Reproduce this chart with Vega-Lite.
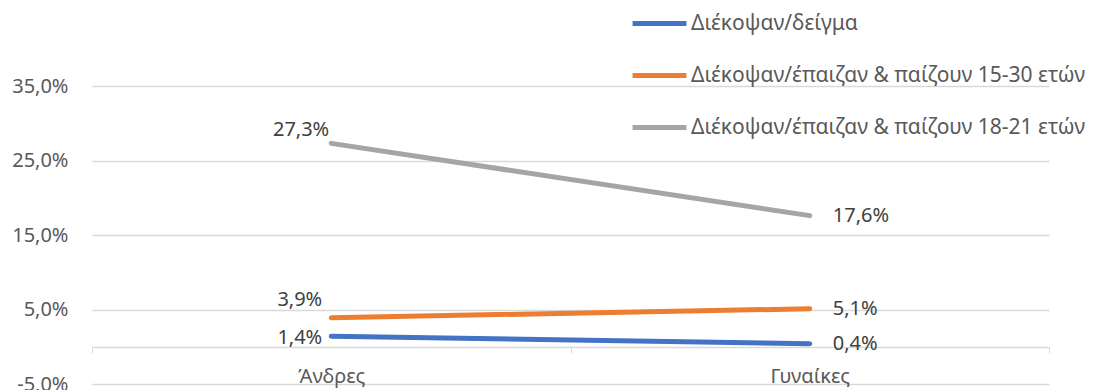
{
  "$schema": "https://vega.github.io/schema/vega-lite/v6.json",
  "autosize": "none",
  "padding": {"left": 92, "top": 86, "right": 50, "bottom": 6},
  "width": 957,
  "height": 298,
  "background": "white",
  "config": {
    "locale": {"number": {"decimal": ",", "thousands": ".", "grouping": [3], "currency": ["", " €"], "minus": "-"}},
    "font": "Noto Sans",
    "view": {"stroke": null}
  },
  "data": {"values": [
    {"cat": "Άνδρες", "series": "Διέκοψαν/δείγμα", "value": 0.014},
    {"cat": "Γυναίκες", "series": "Διέκοψαν/δείγμα", "value": 0.004},
    {"cat": "Άνδρες", "series": "Διέκοψαν/έπαιζαν & παίζουν 15-30 ετών", "value": 0.039},
    {"cat": "Γυναίκες", "series": "Διέκοψαν/έπαιζαν & παίζουν 15-30 ετών", "value": 0.051},
    {"cat": "Άνδρες", "series": "Διέκοψαν/έπαιζαν & παίζουν 18-21 ετών", "value": 0.273},
    {"cat": "Γυναίκες", "series": "Διέκοψαν/έπαιζαν & παίζουν 18-21 ετών", "value": 0.176}
  ]},
  "encoding": {
    "x": {"field": "cat", "type": "nominal", "sort": ["Άνδρες", "Γυναίκες"],
      "scale": {"paddingInner": 0, "paddingOuter": 0},
      "axis": {"title": null, "offset": -37, "labelAngle": 0, "labelFontSize": 20, "labelColor": "#595959",
        "labelPadding": 13, "domainColor": "#D9D9D9", "domainWidth": 1.5, "tickColor": "#D9D9D9", "tickSize": 6, "tickBand": "extent", "grid": false}},
    "y": {"field": "value", "type": "quantitative",
      "scale": {"domain": [-0.05, 0.35], "nice": false, "zero": false},
      "axis": {"title": null, "values": [-0.05, 0.05, 0.15, 0.25, 0.35], "format": ".1%", "domain": false, "ticks": false,
        "labelPadding": 24, "labelFontSize": 20, "labelColor": "#595959", "gridColor": "#D9D9D9", "gridWidth": 1.5}}
  },
  "layer": [
    {
      "mark": {"type": "line", "strokeWidth": 5, "strokeCap": "round"},
      "encoding": {
        "color": {"field": "series", "type": "nominal",
          "scale": {"domain": ["Διέκοψαν/δείγμα", "Διέκοψαν/έπαιζαν & παίζουν 15-30 ετών", "Διέκοψαν/έπαιζαν & παίζουν 18-21 ετών"],
            "range": ["#4472C4", "#ED7D31", "#A5A5A5"]},
          "legend": {"title": null, "orient": "none", "legendX": 538, "legendY": -92, "symbolType": "stroke", "symbolSize": 2900,
            "symbolStrokeWidth": 5, "labelFontSize": 21, "labelColor": "#595959", "labelLimit": 600, "labelOffset": 2, "rowPadding": 12}}
      }
    },
    {
      "transform": [{"filter": "datum.cat === 'Γυναίκες'"}],
      "mark": {"type": "text", "align": "left", "baseline": "middle", "dx": 23, "fontSize": 20, "color": "#404040"},
      "encoding": {"text": {"field": "value", "type": "quantitative", "format": ".1%"}}
    },
    {
      "transform": [{"filter": "datum.cat === 'Άνδρες' && datum.value > 0.2"}],
      "mark": {"type": "text", "align": "right", "baseline": "middle", "dx": -2, "dy": -13, "fontSize": 20, "color": "#404040"},
      "encoding": {"text": {"field": "value", "type": "quantitative", "format": ".1%"}}
    },
    {
      "transform": [{"filter": "datum.cat === 'Άνδρες' && datum.value > 0.03 && datum.value < 0.2"}],
      "mark": {"type": "text", "align": "right", "baseline": "middle", "dx": -9, "dy": -18, "fontSize": 20, "color": "#404040"},
      "encoding": {"text": {"field": "value", "type": "quantitative", "format": ".1%"}}
    },
    {
      "transform": [{"filter": "datum.cat === 'Άνδρες' && datum.value < 0.03"}],
      "mark": {"type": "text", "align": "right", "baseline": "middle", "dx": -9, "dy": 2, "fontSize": 20, "color": "#404040"},
      "encoding": {"text": {"field": "value", "type": "quantitative", "format": ".1%"}}
    }
  ]
}
